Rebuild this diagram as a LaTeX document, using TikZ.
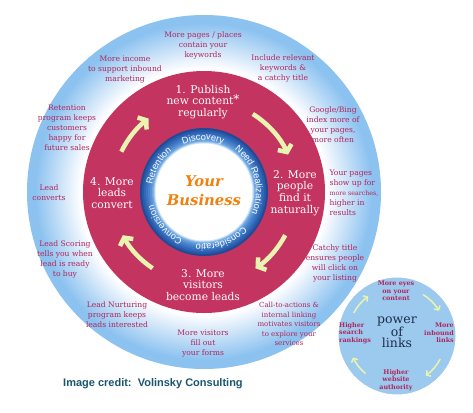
\documentclass[tikz,border=0pt]{standalone}
\usepackage{fontspec}
\setmainfont{DejaVu Serif}
\newfontfamily\ringfont{Liberation Sans}
\usetikzlibrary{arrows.meta,decorations.text}
\definecolor{skyring}{RGB}{140,194,240}
\definecolor{wine}{RGB}{196,52,96}
\definecolor{plum}{RGB}{176,38,92}
\definecolor{lime}{RGB}{232,244,176}
\definecolor{navyring}{RGB}{32,74,150}
\definecolor{midring}{RGB}{58,118,198}
\definecolor{paleblue}{RGB}{150,198,240}
\definecolor{tangerine}{RGB}{240,128,16}
\definecolor{inkteal}{RGB}{27,86,112}
\definecolor{inknavy}{RGB}{30,45,75}
\definecolor{smallsky}{RGB}{156,201,238}
\tikzset{
  hint/.style={text=plum, font=\fontsize{7.6}{10}\selectfont, align=center, inner sep=0pt},
  stage/.style={text=white, font=\fontsize{10.7}{11.7}\selectfont, align=center, inner sep=0pt},
  linkhint/.style={text=plum, font=\bfseries\fontsize{6.4}{7.5}\selectfont, inner sep=0pt},
  bigarrow/.style={draw=lime, line width=4.5pt, -{Straight Barb[length=5.5pt,width=15pt]}},
  smallarrow/.style={draw=lime, line width=1.5pt, -{Straight Barb[length=3pt,width=7pt]}},
  ringword/.style={decorate, decoration={text along path, text align=center, text={|\ringfont\fontsize{9.3}{10}\selectfont\color{white}|#1}}}
}
\begin{document}
\begin{tikzpicture}[x=1pt,y=1pt]
            \useasboundingbox (0,0) rectangle (473,-412);
            \fill[white] (0,0) rectangle (473,-412);
            \coordinate (hub) at (204,-192);
            \coordinate (links) at (397,-336);
            \foreach \k in {0,...,37} {
              \pgfmathsetmacro\rr{177-1.5*\k}
              \pgfmathsetmacro\pp{max(0,min(100,(\rr-124)*2.2))}
              \fill[skyring!\pp!white] (hub) circle[radius=\rr pt];
            }
            \fill[wine] (hub) circle[radius=121pt];
            \foreach \rr/\cc in {64/navyring, 62/navyring!65!midring, 60/navyring!35!midring, 58/midring, 56/midring!85!paleblue, 54/midring!65!paleblue, 52/midring!40!paleblue, 50.5/paleblue, 49.5/paleblue!45!white, 48.5/white} {
              \fill[\cc] (hub) circle[radius=\rr pt];
            }
            \path[ringword=Discovery] (hub) ++(131:52pt) arc[start angle=131, end angle=51, radius=52pt];
            \path[ringword=Need Realization] (hub) ++(62:52pt) arc[start angle=62, end angle=-32, radius=52pt];
            \path[ringword=Consideratio] (hub) ++(-28:52pt) arc[start angle=-28, end angle=-112, radius=52pt];
            \path[ringword=Conversion] (hub) ++(-100:52pt) arc[start angle=-100, end angle=-180, radius=52pt];
            \path[ringword=Retention] (hub) ++(190:52pt) arc[start angle=190, end angle=110, radius=52pt];
            \node [text=tangerine, font=\bfseries\itshape\fontsize{14.8}{19}\selectfont, align=center, inner sep=0pt] (core) at (204,-191) {Your\\Business};
            \node [stage] (s1) at (203,-102) {1. Publish\\new content\raisebox{1.5pt}{\fontsize{12}{12}\selectfont*}\\regularly};
            \node [stage] (s2) at (295,-193) {2. More\\people\\find it\\naturally};
            \node [stage] (s3) at (203,-285) {3. More\\visitors\\become leads};
            \node [stage] (s4) at (112,-193) {4. More\\leads\\convert};
            \draw[bigarrow] (hub) ++(58:92pt) arc[start angle=58, end angle=24, radius=92pt];
            \draw[bigarrow] (hub) ++(-28:92pt) arc[start angle=-28, end angle=-56, radius=92pt];
            \draw[bigarrow] (hub) ++(-124:92pt) arc[start angle=-124, end angle=-152, radius=92pt];
            \draw[bigarrow] (hub) ++(154:92pt) arc[start angle=154, end angle=127, radius=92pt];
            \node [hint] (h1) at (203,-45) {More pages / places\\contain your\\keywords};
            \node [hint] (h2) at (283,-68) {Include relevant\\keywords \&\\a catchy title};
            \node [hint] (h3) at (333,-125) {Google/Bing\\index more of\\your pages,\\more often};
            \node [hint, align=left] (h4) at (354,-193) {Your pages\\show up for\\{\fontsize{6.3}{10}\selectfont more searches,}\\higher in\\results};
            \node [hint] (h5) at (335,-263) {Catchy title\\ensures people\\will click on\\your listing};
            \node [hint, font=\fontsize{7}{9.5}\selectfont] (h6) at (289,-324) {Call-to-actions \&\\internal linking\\motivates visitors\\to explore your\\services};
            \node [hint] (h7) at (203,-344) {More visitors\\fill out\\your forms};
            \node [hint] (h8) at (117,-315) {Lead Nurturing\\program keeps\\leads interested};
            \node [hint] (h9) at (65,-259) {Lead Scoring\\tells you when\\lead is ready\\to buy};
            \node [hint] (h10) at (49,-193) {Lead\\converts};
            \node [hint] (h11) at (67,-128) {Retention\\program keeps\\customers\\happy for\\future sales};
            \node [hint] (h12) at (125,-70) {More income\\to support inbound\\marketing};
            \draw[white, line width=3pt, fill=smallsky] (links) circle[radius=60pt];
            \node [text=inknavy, font=\fontsize{12.5}{11}\selectfont, align=center, inner sep=0pt] (power) at (397,-332) {power\\of\\links};
            \node [linkhint, align=center] (l1) at (396,-291) {More eyes\\on your\\content};
            \node [linkhint, align=right, anchor=east] (l2) at (454,-333) {More\\inbound\\links};
            \node [linkhint, align=center] (l3) at (396,-380) {Higher\\website\\authority};
            \node [linkhint, align=left, anchor=west] (l4) at (339,-333) {Higher\\search\\rankings};
            \draw[smallarrow] (links) ++(152:49pt) arc[start angle=152, end angle=126, radius=49pt];
            \draw[smallarrow] (links) ++(58:49pt) arc[start angle=58, end angle=31, radius=49pt];
            \draw[smallarrow] (links) ++(-28:49pt) arc[start angle=-28, end angle=-54, radius=49pt];
            \draw[smallarrow] (links) ++(-130:49pt) arc[start angle=-130, end angle=-154, radius=49pt];
            \node [text=inkteal, font=\ringfont\bfseries\fontsize{11}{13}\selectfont, anchor=west, inner sep=0pt] (credit) at (63,-384) {Image credit:\ \ Volinsky Consulting};
        \end{tikzpicture}
\end{document}
